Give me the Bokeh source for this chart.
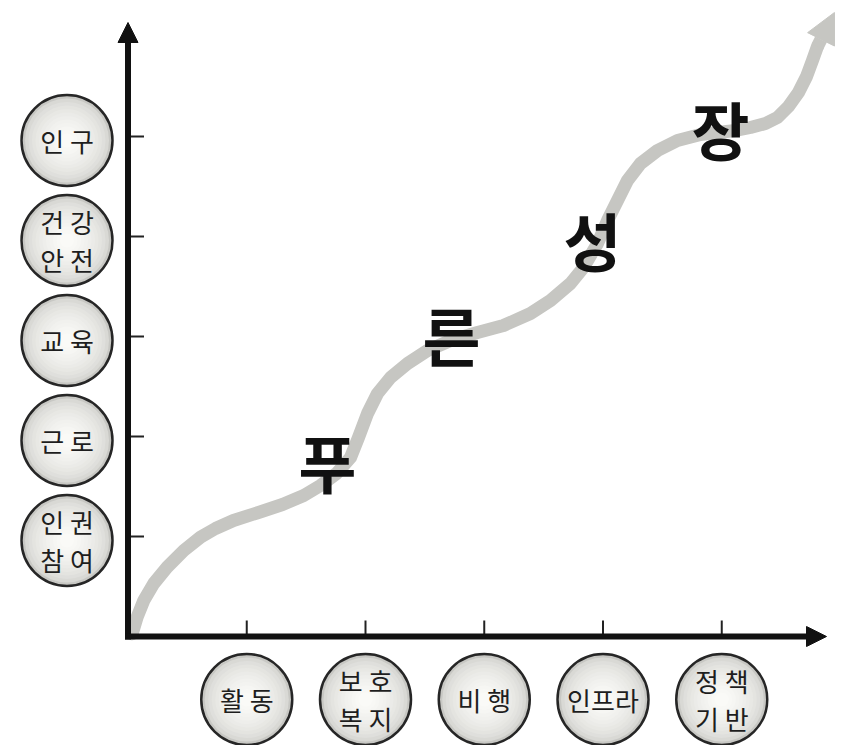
from bokeh.plotting import figure
from bokeh.models import Arrow, NormalHead
from bokeh.core.properties import value
from bokeh.embed import file_html
from bokeh.resources import INLINE

# ---------------- data ----------------
y_levels = [1, 2, 3, 4, 5]
y_labels = ["인 권\n참 여", "근 로", "교 육", "건 강\n안 전", "인 구"]

x_levels = [1, 2, 3, 4, 5]
x_labels = ["활 동", "보 호\n복 지", "비 행", "인프라", "정 책\n기 반"]

# growth curve (x in category units, y in level units)
curve_x = [0.035, 0.077, 0.133, 0.217, 0.330, 0.470, 0.611, 0.737, 0.888, 1.099,
           1.301, 1.480, 1.621, 1.756, 1.874, 1.941, 2.017, 2.101, 2.211, 2.354,
           2.522, 2.716, 2.943, 3.162, 3.389, 3.558, 3.726, 3.836, 3.954, 4.038,
           4.122, 4.206, 4.316, 4.459, 4.627, 4.821, 4.964, 5.116, 5.242, 5.368,
           5.469, 5.562, 5.646, 5.714, 5.764, 5.806]
curve_y = [0.027, 0.193, 0.36, 0.53, 0.693, 0.86, 0.993, 1.08, 1.16, 1.24,
           1.32, 1.41, 1.51, 1.63, 1.79, 1.99, 2.23, 2.43, 2.59, 2.73,
           2.86, 2.96, 3.04, 3.11, 3.23, 3.36, 3.53, 3.69, 3.93, 4.16,
           4.36, 4.56, 4.73, 4.86, 4.96, 5.02, 5.04, 5.06, 5.09, 5.13,
           5.19, 5.30, 5.44, 5.60, 5.76, 5.90]
curve_tip = (5.949, 6.24)

word_chars = ["푸", "른", "성", "장"]
word_x = [1.680, 2.724, 3.912, 4.989]
word_y = [1.71, 2.98, 3.93, 5.04]

# ---------------- layout ----------------
W, H = 843, 745
PX_X, PX_Y = 118.75, 100.0      # pixels per unit
OX, OY = 127.5, 636.0           # origin in figure pixels (from left / from top)

p = figure(width=W, height=H, output_backend="svg", toolbar_location=None,
           x_range=(-OX / PX_X, (W - OX) / PX_X),
           y_range=(-(H - OY) / PX_Y, OY / PX_Y),
           x_axis_type=None, y_axis_type=None, min_border=0)
p.outline_line_color = None
p.grid.visible = False
p.background_fill_color = "white"
p.border_fill_color = "white"

FONT = "Noto Sans CJK KR"
left_x = -61.0 / PX_X
bottom_y = -63.0 / PX_Y
circ_dy = -0.04

lx = [left_x] * len(y_levels)
ly = [v + circ_dy for v in y_levels]
bx = list(x_levels)
by = [bottom_y] * len(x_levels)

# circles with a radial-looking shading
edge = (200, 200, 196)
center = (250, 250, 247)
N = 12
for k in range(N):
    t = (k / (N - 1)) ** 0.45
    c = tuple(int(round(edge[i] + (center[i] - edge[i]) * t)) for i in range(3))
    col = "#%02x%02x%02x" % c
    s = 91 * (1 - k / (N + 1))
    p.scatter(lx + bx, ly + by, marker="circle", size=s, fill_color=col,
              line_color=None)
p.scatter(lx + bx, ly + by, marker="circle", size=91, fill_color=None,
          line_color="#262626", line_width=2.5)

p.text(lx, ly, text=y_labels, text_align="center", text_baseline="middle",
       text_font=value(FONT), text_font_size="26px", text_color="#1e1e1e",
       text_line_height=1.05)
p.text(bx, by, text=x_labels, text_align="center", text_baseline="middle",
       text_font=value(FONT), text_font_size="26px", text_color="#1e1e1e",
       text_line_height=1.05)

# tick marks (inside)
p.segment(x0=[0] * 5, y0=y_levels, x1=[16 / PX_X] * 5, y1=y_levels,
          line_color="#222222", line_width=2)
p.segment(x0=x_levels, y0=[0] * 5, x1=x_levels, y1=[16 / PX_Y] * 5,
          line_color="#222222", line_width=2)

# axes with arrows
p.add_layout(Arrow(x_start=0, y_start=-3 / PX_Y, x_end=0, y_end=(OY - 22) / PX_Y,
                   line_width=6, line_color="#111111",
                   end=NormalHead(size=20, fill_color="#111111", line_color="#111111")))
p.add_layout(Arrow(x_start=-3 / PX_X, y_start=0, x_end=(826 - OX) / PX_X, y_end=0,
                   line_width=6, line_color="#111111",
                   end=NormalHead(size=20, fill_color="#111111", line_color="#111111")))

# growth curve
GRAY = "#c6c6c2"
p.line(curve_x, curve_y, line_width=13, line_color=GRAY, line_cap="round",
       line_join="round")
p.add_layout(Arrow(x_start=curve_x[-1], y_start=curve_y[-1],
                   x_end=curve_tip[0], y_end=curve_tip[1],
                   line_width=13, line_color=GRAY,
                   end=NormalHead(size=30, fill_color=GRAY, line_color=GRAY)))

# big words
p.text(word_x, word_y, text=word_chars, text_align="center", text_baseline="middle",
       text_font=value(FONT), text_font_size="63px", text_font_style="bold",
       text_color="#111111", y_offset=-5)

open("out.html", "w").write(file_html(p, INLINE))
